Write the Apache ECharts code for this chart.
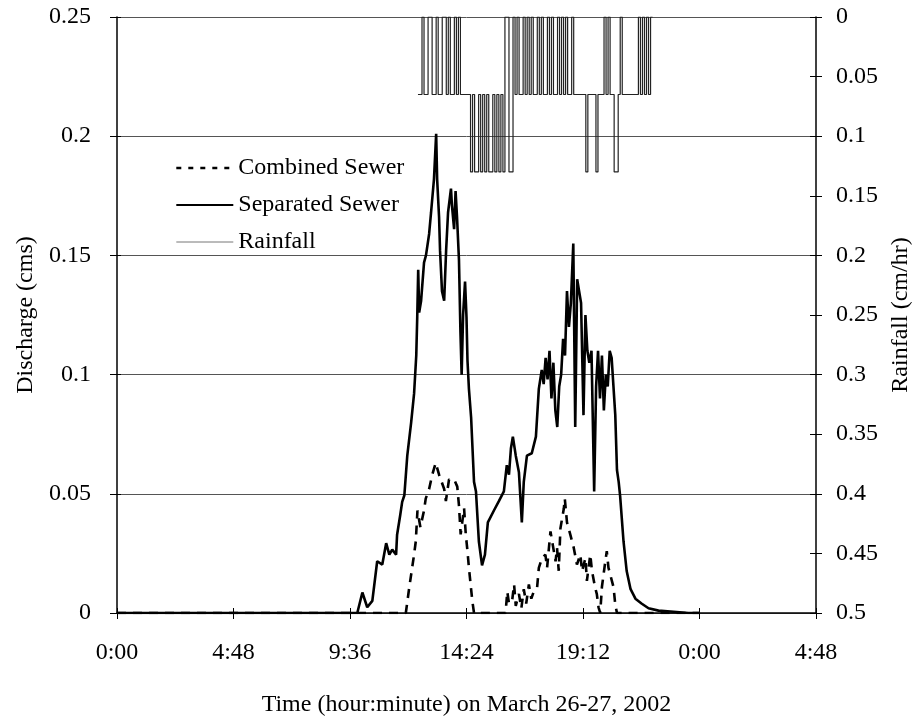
<!DOCTYPE html>
<html>
<head>
<meta charset="utf-8">
<script src="https://cdn.jsdelivr.net/npm/echarts@6/dist/echarts.min.js"></script>
<style>
  html, body { margin: 0; padding: 0; background: #fff; }
  #chart { width: 921px; height: 722px; }
</style>
</head>
<body>
<div id="chart"></div>
<script>
const fontFamily = '"Liberation Serif", "Times New Roman", serif';
const ink = '#000';

// x ticks every 4.8 h (4:48), from 0:00 on March 26 to 4:48 on March 27
const xTicks = { min: 0, max: 28.8, step: 4.8 };

// [hour, discharge cms]
const separatedSewer = [
  [0, 0], [9.65, 0], [9.90, 0], [10.11, 0.0086], [10.31, 0.0024], [10.52, 0.0051], [10.72, 0.0217],
  [10.93, 0.0203], [11.09, 0.0293], [11.22, 0.0245], [11.34, 0.0266], [11.50, 0.0245], [11.54, 0.0328],
  [11.67, 0.0411], [11.75, 0.0466], [11.84, 0.0494], [11.96, 0.066], [12.12, 0.080], [12.24, 0.092],
  [12.33, 0.108], [12.37, 0.124], [12.41, 0.144], [12.45, 0.126], [12.53, 0.131], [12.65, 0.147],
  [12.73, 0.150], [12.86, 0.159], [12.94, 0.168], [13.06, 0.182], [13.15, 0.201], [13.19, 0.182],
  [13.27, 0.166], [13.31, 0.152], [13.39, 0.135], [13.48, 0.131], [13.56, 0.152], [13.64, 0.168],
  [13.76, 0.178], [13.80, 0.171], [13.89, 0.161], [13.95, 0.177], [14.01, 0.166], [14.09, 0.148],
  [14.15, 0.118], [14.20, 0.100], [14.26, 0.125], [14.34, 0.139], [14.40, 0.124], [14.44, 0.106],
  [14.50, 0.094], [14.59, 0.082], [14.63, 0.073], [14.71, 0.055], [14.79, 0.051], [14.91, 0.030],
  [15.04, 0.020], [15.16, 0.0245], [15.28, 0.038], [15.53, 0.043], [15.74, 0.047], [15.94, 0.051],
  [16.06, 0.062], [16.15, 0.058], [16.23, 0.069], [16.31, 0.074], [16.43, 0.066], [16.56, 0.059],
  [16.68, 0.038], [16.76, 0.055], [16.89, 0.066], [17.09, 0.067], [17.26, 0.074], [17.38, 0.094],
  [17.50, 0.102], [17.58, 0.096], [17.66, 0.107], [17.74, 0.098], [17.82, 0.110], [17.90, 0.090],
  [17.98, 0.105], [18.06, 0.085], [18.14, 0.078], [18.22, 0.095], [18.30, 0.100], [18.38, 0.115],
  [18.46, 0.108], [18.54, 0.135], [18.62, 0.120], [18.70, 0.130], [18.80, 0.155], [18.88, 0.078],
  [18.96, 0.140], [19.04, 0.135], [19.12, 0.130], [19.22, 0.083], [19.30, 0.125], [19.38, 0.110],
  [19.46, 0.105], [19.55, 0.110], [19.66, 0.051], [19.74, 0.095], [19.82, 0.110], [19.90, 0.090],
  [19.98, 0.108], [20.06, 0.085], [20.14, 0.100], [20.22, 0.095], [20.30, 0.110], [20.38, 0.107],
  [20.53, 0.083], [20.60, 0.060], [20.67, 0.055], [20.73, 0.049], [20.87, 0.030], [21.00, 0.0176],
  [21.16, 0.010], [21.36, 0.006], [21.61, 0.004], [21.90, 0.002], [22.31, 0.001], [22.93, 0.0005],
  [23.54, 0], [23.98, 0]
];

// [hour, discharge cms]
const combinedSewer = [
  [0, 0], [11.90, 0], [12.04, 0.0106], [12.24, 0.0245], [12.31, 0.030], [12.38, 0.043], [12.50, 0.036],
  [12.65, 0.043], [12.72, 0.048], [12.86, 0.052], [12.99, 0.058], [13.13, 0.063], [13.27, 0.058],
  [13.48, 0.052], [13.55, 0.047], [13.68, 0.056], [13.89, 0.056], [14.02, 0.053], [14.09, 0.045],
  [14.16, 0.033], [14.30, 0.044], [14.37, 0.033], [14.43, 0.027], [14.50, 0.019], [14.57, 0.012],
  [14.64, 0.005], [14.71, 0], [16.01, 0], [16.08, 0.009], [16.15, 0.004], [16.28, 0.0051],
  [16.36, 0.012], [16.43, 0.003], [16.56, 0.008], [16.66, 0.002], [16.76, 0.010], [16.86, 0.004],
  [16.97, 0.012], [17.07, 0.006], [17.17, 0.009], [17.31, 0.0108], [17.38, 0.0189], [17.51, 0.023],
  [17.65, 0.0245], [17.72, 0.019], [17.86, 0.0342], [17.93, 0.030], [18.07, 0.0217], [18.13, 0.0273],
  [18.20, 0.0177], [18.27, 0.0355], [18.34, 0.0397], [18.41, 0.0438], [18.45, 0.048], [18.54, 0.038],
  [18.68, 0.0328], [18.82, 0.0273], [18.95, 0.0203], [19.09, 0.0245], [19.16, 0.0176], [19.30, 0.023],
  [19.36, 0.0135], [19.50, 0.0245], [19.57, 0.0176], [19.70, 0.0107], [19.77, 0.0079], [19.84, 0.0024],
  [19.91, 0], [19.98, 0.011], [20.12, 0.0217], [20.18, 0.0259], [20.25, 0.0189], [20.39, 0.0135],
  [20.46, 0.0107], [20.53, 0.0035], [20.60, 0], [23.98, 0]
];

// rainfall record (cm/hr), one reading every 5 minutes starting at 12.40 h
const rainStartHour = 12.40;
const rainStepMinutes = 5;
const rainfall = [
  0.065, 0.065, 0, 0.065, 0.065, 0, 0, 0.065, 0.065, 0,
  0.065, 0.065, 0, 0, 0.065, 0, 0.065, 0.065, 0, 0.065,
  0, 0.065, 0.065, 0.065, 0.065, 0.065, 0.13, 0.065, 0.13, 0.13,
  0.065, 0.13, 0.065, 0.13, 0.065, 0.13, 0.13, 0.065, 0.13, 0.065,
  0.13, 0.065, 0.13, 0, 0, 0.13, 0.13, 0, 0.065, 0,
  0.065, 0.065, 0, 0.065, 0, 0.065, 0, 0.065, 0.065, 0,
  0.065, 0, 0.065, 0.065, 0, 0.065, 0, 0.065, 0.065, 0,
  0.065, 0, 0.065, 0, 0.065, 0.065, 0, 0.065, 0.065, 0.065,
  0.065, 0.065, 0.065, 0.13, 0.065, 0.065, 0.065, 0.065, 0.13, 0.065,
  0.065, 0.065, 0, 0.065, 0, 0.065, 0.065, 0.13, 0.13, 0.065,
  0, 0.065, 0.065, 0.065, 0.065, 0.065, 0.065, 0.065, 0.065, 0,
  0.065, 0, 0.065, 0, 0.065, 0
];

const rainData = rainfall.map((v, i) => [rainStartHour + i * rainStepMinutes / 60, v]);

function hourLabel(v) {
  let h = v % 24;
  let hh = Math.floor(h + 1e-6);
  let mm = Math.round((h - hh) * 60);
  return hh + ':' + (mm < 10 ? '0' + mm : mm);
}

const textStyle = { color: ink, fontSize: 24, fontFamily: fontFamily };

const chart = echarts.init(document.getElementById('chart'), null, { renderer: 'canvas' });

chart.setOption({
  animation: false,
  backgroundColor: '#fff',
  grid: { left: 117, right: 105, top: 17, bottom: 103 },
  legend: {
    orient: 'vertical',
    left: 170,
    top: 151,
    itemWidth: 57,
    itemHeight: 14,
    itemGap: 13,
    itemStyle: { color: 'transparent', borderColor: 'transparent', borderWidth: 0 },
    textStyle: textStyle,
    data: [
      { name: 'Combined Sewer', lineStyle: { type: [5, 7], width: 2.6 } },
      { name: 'Separated Sewer' },
      { name: 'Rainfall', lineStyle: { color: '#777', width: 1 } }
    ]
  },
  xAxis: [
    {
      type: 'value',
      min: xTicks.min, max: xTicks.max, interval: xTicks.step,
      position: 'bottom',
      axisLine: { onZero: false, lineStyle: { color: ink, width: 1.5 } },
      axisTick: { length: 6, lineStyle: { color: ink } },
      axisLabel: { formatter: hourLabel, margin: 28, ...textStyle },
      splitLine: { show: false },
      name: 'Time (hour:minute) on March 26-27, 2002',
      nameLocation: 'middle',
      nameGap: 80,
      nameTextStyle: textStyle
    },
    {
      type: 'value',
      min: xTicks.min, max: xTicks.max, interval: xTicks.step,
      position: 'bottom',
      axisLine: { show: false, onZero: false },
      axisTick: { inside: true, length: 5, lineStyle: { color: ink } },
      axisLabel: { show: false },
      splitLine: { show: false }
    }
  ],
  yAxis: [
    {
      type: 'value',
      min: 0, max: 0.25, interval: 0.05,
      position: 'left',
      axisLine: { show: true, onZero: false, lineStyle: { color: ink, width: 1.5 } },
      axisTick: { show: true, length: 7, lineStyle: { color: ink } },
      axisLabel: { margin: 26, ...textStyle },
      splitLine: { show: true, lineStyle: { color: '#555', width: 1 } },
      name: 'Discharge (cms)',
      nameLocation: 'middle',
      nameRotate: 90,
      nameGap: 73,
      nameTextStyle: textStyle
    },
    {
      type: 'value',
      min: 0, max: 0.5, interval: 0.05,
      inverse: true,
      position: 'right',
      axisLine: { show: true, onZero: false, lineStyle: { color: ink, width: 1.5 } },
      axisTick: { show: true, length: 6, lineStyle: { color: ink } },
      axisLabel: { margin: 20, ...textStyle },
      splitLine: { show: false },
      name: 'Rainfall (cm/hr)',
      nameLocation: 'middle',
      nameRotate: 90,
      nameGap: 66,
      nameTextStyle: textStyle
    },
    {
      type: 'value',
      min: 0, max: 0.25, interval: 0.05,
      position: 'left',
      axisLine: { show: false, onZero: false },
      axisTick: { show: true, inside: true, length: 4, lineStyle: { color: ink } },
      axisLabel: { show: false },
      splitLine: { show: false }
    },
    {
      type: 'value',
      min: 0, max: 0.5, interval: 0.05,
      inverse: true,
      position: 'right',
      axisLine: { show: false, onZero: false },
      axisTick: { show: true, inside: true, length: 6, lineStyle: { color: ink } },
      axisLabel: { show: false },
      splitLine: { show: false }
    }
  ],
  series: [
    {
      name: 'Rainfall',
      type: 'line',
      yAxisIndex: 1,
      step: 'end',
      showSymbol: false,
      symbol: 'none',
      data: rainData.concat([[rainData[rainData.length - 1][0] + rainStepMinutes / 60, 0]]),
      color: '#222',
      lineStyle: { color: '#222', width: 1.2 },
      z: 2
    },
    {
      name: 'Separated Sewer',
      type: 'line',
      yAxisIndex: 0,
      showSymbol: false,
      symbol: 'none',
      data: separatedSewer,
      color: ink,
      lineStyle: { color: ink, width: 2.6 },
      z: 4
    },
    {
      name: 'Combined Sewer',
      type: 'line',
      yAxisIndex: 0,
      showSymbol: false,
      symbol: 'none',
      data: combinedSewer,
      color: ink,
      lineStyle: { color: ink, width: 2.6, type: [9, 7] },
      z: 3
    }
  ]
});
</script>
</body>
</html>
